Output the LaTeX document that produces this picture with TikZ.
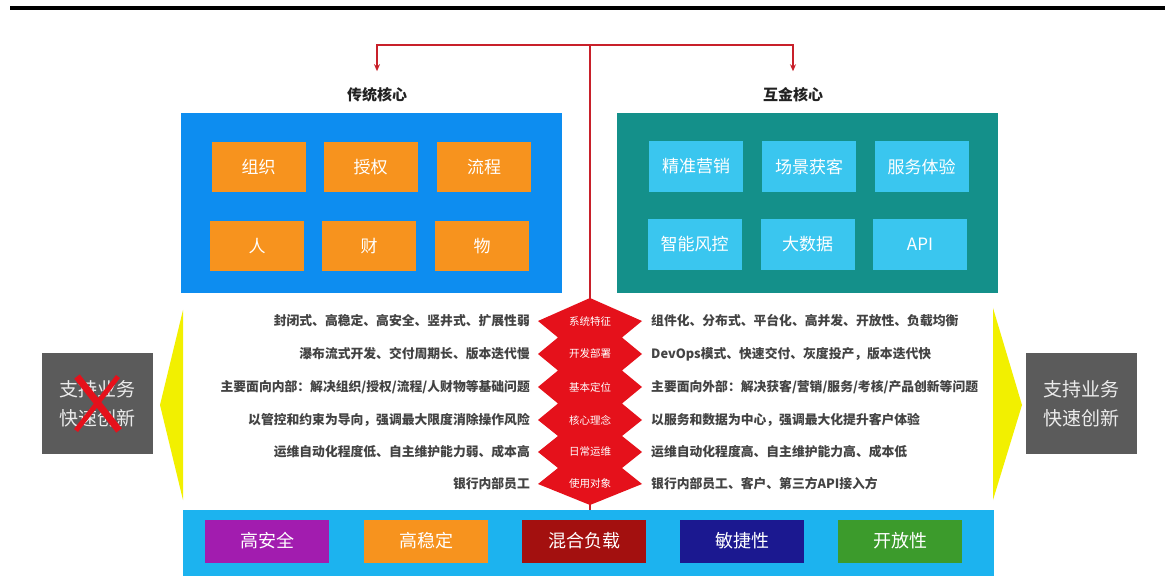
\documentclass[tikz,border=0pt]{standalone}
\usepackage{fontspec}
\setmainfont{Noto Sans CJK SC}
\usetikzlibrary{arrows.meta}
\definecolor{blueL}{HTML}{0D8DF0}
\definecolor{tealC}{HTML}{14908A}
\definecolor{orangeC}{HTML}{F7931E}
\definecolor{cyanC}{HTML}{3AC6EF}
\definecolor{zzred}{HTML}{E5111B}
\definecolor{lineRed}{HTML}{C8202A}
\definecolor{yellowC}{HTML}{F2F000}
\definecolor{grayC}{HTML}{5B5B5B}
\definecolor{barC}{HTML}{1CB3EF}
\definecolor{purpleC}{HTML}{A21CAF}
\definecolor{navyC}{HTML}{1B1890}
\definecolor{darkredC}{HTML}{A3100F}
\definecolor{greenC}{HTML}{3C9B2C}
\definecolor{txt}{HTML}{222222}
\tikzset{
  panel/.style={minimum width=381pt, minimum height=180pt, inner sep=0pt},
  obox/.style={fill=orangeC, minimum width=94pt, minimum height=50pt, inner sep=0pt, text=white, font=\fontsize{17}{17}\selectfont},
  cbox/.style={fill=cyanC, minimum width=94pt, minimum height=51pt, inner sep=0pt, text=white, font=\fontsize{17}{17}\selectfont},
  ttl/.style={font=\fontsize{15}{15}\selectfont\bfseries, text=txt},
  ltxt/.style={anchor=east, font=\fontsize{12.8}{12.8}\selectfont\bfseries, text=txt!85!white, inner sep=0pt},
  rtxt/.style={anchor=west, font=\fontsize{12.8}{12.8}\selectfont\bfseries, text=txt!85!white, inner sep=0pt},
  zlab/.style={font=\fontsize{10.5}{10.5}\selectfont, text=white, inner sep=0pt},
  gbox/.style={fill=grayC, minimum width=111pt, minimum height=101pt, inner sep=0pt, text=white!92!black, align=center, font=\fontsize{19}{29}\selectfont},
  bbox/.style={minimum width=124pt, minimum height=43pt, inner sep=0pt, text=white, font=\fontsize{18}{18}\selectfont},
  redline/.style={draw=lineRed, line width=2pt},
}
\begin{document}
\begin{tikzpicture}[x=1pt,y=-1pt]
\useasboundingbox (0,0) rectangle (1165,585);
\fill[white] (0,0) rectangle (1165,585);
% top rule
\draw[line width=4pt, black] (10,8) -- (1165,8);

% panels
\node[panel, fill=blueL] (trad) at (371.5,203) {};
\node[panel, fill=tealC] (inet) at (807.5,203) {};

% bottom bar
\node[fill=barC, minimum width=811pt, minimum height=66pt, inner sep=0pt] (bar) at (588,543) {};

% red connector
\coordinate (top) at (590,45);
\node[ttl] (tradT) at (377,95) {传统核心};
\node[ttl] (inetT) at (793,95) {互金核心};
\draw[redline] (top) -- (top |- bar.north);
\draw[redline, -{Stealth[length=7pt,width=6pt]}] (top) -| ([yshift=13pt]tradT.north);
\draw[redline, -{Stealth[length=7pt,width=6pt]}] (top) -| ([yshift=13pt]inetT.north);

% orange boxes
\node[obox] (o1) at (258.5,167) {组织};
\node[obox] (o2) at (370.5,167) {授权};
\node[obox] (o3) at (484,167) {流程};
\node[obox] (o4) at (257,246) {人};
\node[obox] (o5) at (369,246) {财};
\node[obox] (o6) at (482,246) {物};

% cyan boxes
\node[cbox] (c1) at (696,166.5) {精准营销};
\node[cbox] (c2) at (809,166.5) {场景获客};
\node[cbox] (c3) at (921.5,166.5) {服务体验};
\node[cbox] (c4) at (694.5,244.5) {智能风控};
\node[cbox] (c5) at (807.5,244.5) {大数据};
\node[cbox] (c6) at (920,244.5) {API};

% zigzag
\fill[zzred] (590,298) -- (642,321) -- (622,337.5) -- (642,354) -- (622,370.5) -- (642,387)
  -- (622,403.5) -- (642,420) -- (622,436) -- (642,452) -- (622,468) -- (642,484)
  -- (590,505) -- (538,484) -- (558,468) -- (538,452) -- (558,436) -- (538,420)
  -- (558,403.5) -- (538,387) -- (558,370.5) -- (538,354) -- (558,337.5) -- (538,321) -- cycle;
\node[zlab] (z1) at (590,321) {系统特征};
\node[zlab] (z2) at (590,354) {开发部署};
\node[zlab] (z3) at (590,387) {基本定位};
\node[zlab] (z4) at (590,420) {核心理念};
\node[zlab] (z5) at (590,452) {日常运维};
\node[zlab] (z6) at (590,484) {使用对象};

% left texts
\node[ltxt] (l1) at (530,321) {封闭式、高稳定、高安全、竖井式、扩展性弱};
\node[ltxt] (l2) at (530,354) {瀑布流式开发、交付周期长、版本迭代慢};
\node[ltxt] (l3) at (530,387) {主要面向内部：解决组织/授权/流程/人财物等基础问题};
\node[ltxt] (l4) at (530,420) {以管控和约束为导向，强调最大限度消除操作风险};
\node[ltxt] (l5) at (530,452) {运维自动化程度低、自主维护能力弱、成本高};
\node[ltxt] (l6) at (530,484) {银行内部员工};

% right texts
\node[rtxt] (r1) at (651,321) {组件化、分布式、平台化、高并发、开放性、负载均衡};
\node[rtxt] (r2) at (651,354) {DevOps模式、快速交付、灰度投产，版本迭代快};
\node[rtxt] (r3) at (651,387) {主要面向外部：解决获客/营销/服务/考核/产品创新等问题};
\node[rtxt] (r4) at (651,420) {以服务和数据为中心，强调最大化提升客户体验};
\node[rtxt] (r5) at (651,452) {运维自动化程度高、自主维护能力高、成本低};
\node[rtxt] (r6) at (651,484) {银行内部员工、客户、第三方API接入方};

% yellow arrows
\fill[yellowC] (183,310) -- (160,405) -- (183,500) -- cycle;
\fill[yellowC] (993,308) -- (1022,405) -- (993,500) -- cycle;

% gray boxes
\node[gbox] (lg) at (97,403.5) {支持业务\\快速创新};
\node[gbox] (rg) at (1081.5,403.5) {支持业务\\快速创新};
\draw[zzred, line width=7pt] (lg.center) ++(-20,-27) -- ++(42,54);
\draw[zzred, line width=5pt] (lg.center) ++(21,-27) -- ++(-42,54);

% bottom boxes
\node[bbox, fill=purpleC] (b1) at (267,541) {高安全};
\node[bbox, fill=orangeC] (b2) at (426,541) {高稳定};
\node[bbox, fill=darkredC] (b3) at (584,541) {混合负载};
\node[bbox, fill=navyC] (b4) at (742,541) {敏捷性};
\node[bbox, fill=greenC] (b5) at (900,541) {开放性};
\end{tikzpicture}
\end{document}
